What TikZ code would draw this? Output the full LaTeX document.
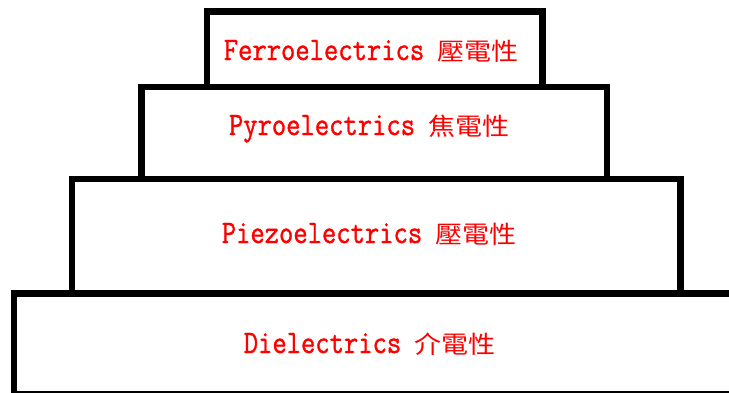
\documentclass[tikz,border=0pt]{standalone}
\usepackage{fontspec}
\newfontfamily\latinmono[FakeBold=1.2]{Latin Modern Mono}
\newfontfamily\cjkfont{Noto Sans CJK TC}
\newcommand\layerlabel[2]{{\latinmono\fontsize{27.8}{27.8}\selectfont\scalebox{1}[1.18]{#1}}\hspace{13pt}{\cjkfont\fontsize{27}{27}\selectfont\scalebox{1}[0.9]{#2}}}
\tikzset{
  layerbox/.style={draw=black, line width=6.5pt, fill=white, line join=miter},
  layertext/.style={text=red, inner sep=0pt, anchor=base}
}
\begin{document}
\begin{tikzpicture}[x=1pt,y=-1pt]
\clip (0,0) rectangle (729,392);
\fill[white] (0,0) rectangle (729,392);
\draw[layerbox] (14,293.5) rectangle (745,394.5);
\draw[layerbox] (72,179) rectangle (680.5,293.5);
\draw[layerbox] (141.5,87) rectangle (607,179);
\draw[layerbox] (207,11.5) rectangle (542.5,87);
\node[layertext] (ferro) at (371,60) {\layerlabel{Ferroelectrics}{壓電性}};
\node[layertext] (pyro) at (369,135) {\layerlabel{Pyroelectrics}{焦電性}};
\node[layertext] (piezo) at (369,243) {\layerlabel{Piezoelectrics}{壓電性}};
\node[layertext] (diel) at (369.5,353) {\layerlabel{Dielectrics}{介電性}};
\end{tikzpicture}
\end{document}
